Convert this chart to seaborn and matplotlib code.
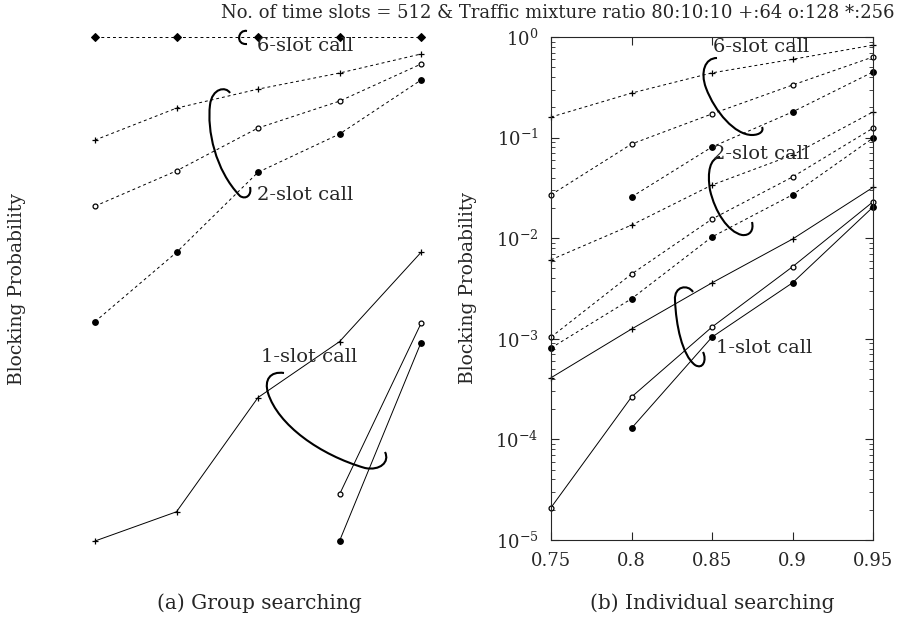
import matplotlib
matplotlib.use("Agg")
import matplotlib.pyplot as plt
import seaborn as sns
from matplotlib.path import Path
from matplotlib.patches import PathPatch
from matplotlib.ticker import LogLocator, LogFormatterMathtext, FixedLocator

sns.set_style("ticks")
plt.rcParams["font.family"] = ["DejaVu Serif"]
plt.rcParams["mathtext.fontset"] = "dejavuserif"

# offered load (x) values
load = [0.75, 0.8, 0.85, 0.9, 0.95]
load_last2 = [0.9, 0.95]
load_from08 = [0.8, 0.85, 0.9, 0.95]
load_ticks = ["0.75", "0.8", "0.85", "0.9", "0.95"]

# (a) group searching
grp_6slot = [1.0, 1.0, 1.0, 1.0, 1.0]
grp_2slot_64 = [0.095, 0.197, 0.304, 0.439, 0.678]
grp_2slot_128 = [0.021, 0.047, 0.125, 0.231, 0.539]
grp_2slot_256 = [0.0015, 0.0073, 0.0455, 0.109, 0.374]
grp_1slot_64 = [1.0e-5, 1.95e-5, 2.65e-4, 9.5e-4, 7.3e-3]
grp_1slot_128 = [2.9e-5, 1.44e-3]
grp_1slot_256 = [1.0e-5, 9.3e-4]

# (b) individual searching
ind_6slot_64 = [0.16, 0.277, 0.44, 0.60, 0.83]
ind_6slot_128 = [0.027, 0.0863, 0.172, 0.333, 0.633]
ind_6slot_256 = [0.0257, 0.0807, 0.18, 0.449]
ind_2slot_64 = [0.0061, 0.0135, 0.0338, 0.0671, 0.18]
ind_2slot_128 = [1.04e-3, 0.0044, 0.0155, 0.0406, 0.124]
ind_2slot_256 = [8.1e-4, 0.0025, 0.0103, 0.027, 0.099]
ind_1slot_64 = [4.1e-4, 1.25e-3, 3.6e-3, 9.8e-3, 0.032]
ind_1slot_128 = [2.1e-5, 2.64e-4, 1.31e-3, 5.2e-3, 0.023]
ind_1slot_256 = [1.29e-4, 1.04e-3, 3.6e-3, 0.0204]

W, H = 898, 624
fig = plt.figure(figsize=(W / 100, H / 100), dpi=100)
ax_a = fig.add_axes([95 / W, 1 - 541 / H, 326 / W, 504 / H])
ax_b = fig.add_axes([551 / W, 1 - 540 / H, 322 / W, 503 / H])

dash = (0, (3, 3))
mk = {
    "+": dict(marker="+", ms=5, mec="k", mew=0.9),
    "o": dict(marker="o", ms=3.5, mfc="white", mec="k", mew=0.9),
    "*": dict(marker="o", ms=4, mfc="k", mec="k", mew=0.9),
}


def draw(ax, x, y, m, ls):
    sns.lineplot(x=x, y=y, ax=ax, color="k", lw=0.7, linestyle=ls,
                 clip_on=False, **mk[m])


# panel (a)
sns.lineplot(x=load, y=grp_6slot, ax=ax_a, color="k", lw=0.7, linestyle=dash,
             marker="D", ms=4, mfc="k", mec="k", clip_on=False)
draw(ax_a, load, grp_2slot_64, "+", dash)
draw(ax_a, load, grp_2slot_128, "o", dash)
draw(ax_a, load, grp_2slot_256, "*", dash)
draw(ax_a, load, grp_1slot_64, "+", "-")
draw(ax_a, load_last2, grp_1slot_128, "o", "-")
draw(ax_a, load_last2, grp_1slot_256, "*", "-")

# panel (b)
draw(ax_b, load, ind_6slot_64, "+", dash)
draw(ax_b, load, ind_6slot_128, "o", dash)
draw(ax_b, load_from08, ind_6slot_256, "*", dash)
draw(ax_b, load, ind_2slot_64, "+", dash)
draw(ax_b, load, ind_2slot_128, "o", dash)
draw(ax_b, load, ind_2slot_256, "*", dash)
draw(ax_b, load, ind_1slot_64, "+", "-")
draw(ax_b, load, ind_1slot_128, "o", "-")
draw(ax_b, load_from08, ind_1slot_256, "*", "-")

for ax in (ax_a, ax_b):
    ax.set_yscale("log")
    ax.set_ylim(1e-5, 1)
    ax.set_xlim(0.75, 0.95)
    ax.set_xlabel("")
    ax.set_ylabel("Blocking Probability", fontsize=13.5)

# panel (a): axes frame lost in the scan
for s in ax_a.spines.values():
    s.set_visible(False)
ax_a.tick_params(which="both", left=False, bottom=False, labelleft=False, labelbottom=False)
ax_a.yaxis.set_label_coords((26 - 95) / 326, 0.5)

# panel (b)
for s in ax_b.spines.values():
    s.set_linewidth(0.8)
ax_b.xaxis.set_major_locator(FixedLocator(load))
ax_b.set_xticklabels(load_ticks, fontsize=13)
ax_b.yaxis.set_major_locator(LogLocator(base=10, numticks=10))
ax_b.yaxis.set_minor_locator(LogLocator(base=10, subs=range(2, 10), numticks=10))
ax_b.yaxis.set_major_formatter(LogFormatterMathtext())
ax_b.tick_params(which="both", direction="in", top=True, right=True, labelsize=13)
ax_b.tick_params(which="major", length=6, width=0.8)
ax_b.tick_params(which="minor", length=3, width=0.6)
ax_b.tick_params(axis="x", pad=9)
ax_b.tick_params(axis="y", pad=9)
ax_b.yaxis.set_label_coords((477 - 551) / 322, 0.5)

# labels
lab = dict(fontsize=14, va="center", ha="left")
fig.text(257 / W, 1 - 46 / H, "6-slot call", **lab)
fig.text(257 / W, 1 - 195 / H, "2-slot call", **lab)
fig.text(261 / W, 1 - 357 / H, "1-slot call", **lab)
fig.text(713 / W, 1 - 47 / H, "6-slot call", **lab)
fig.text(713 / W, 1 - 154 / H, "2-slot call", **lab)
fig.text(716 / W, 1 - 348 / H, "1-slot call", **lab)

# hand drawn brackets (pixel coordinates of the figure)
brackets = [
    [(247, 31), (238, 29), (235, 45), (247, 44)],
    [(230, 93), (226, 86), (212, 88), (210, 105), (207, 130), (215, 170), (240, 196),
     (246, 200), (252, 195), (250, 187)],
    [(284, 373), (270, 371), (264, 380), (268, 393), (278, 425), (320, 455), (365, 468),
     (380, 471), (390, 462), (385, 452)],
    [(717, 58), (705, 58), (700, 72), (706, 88), (715, 112), (735, 135), (752, 135),
     (760, 135), (764, 131), (762, 127)],
    [(720, 157), (710, 158), (707, 172), (710, 190), (715, 212), (728, 232), (742, 235),
     (750, 236), (754, 230), (752, 222)],
    [(693, 292), (688, 284), (674, 286), (675, 300), (676, 325), (682, 355), (695, 365),
     (703, 370), (707, 360), (703, 352)],
]
for pts in brackets:
    verts = [(x / W, 1 - y / H) for x, y in pts]
    codes = [Path.MOVETO] + [Path.CURVE4] * (len(verts) - 1)
    fig.add_artist(PathPatch(Path(verts, codes), fill=False, lw=1.5, ec="k",
                             transform=fig.transFigure))

fig.text(558 / W, 1 - 13 / H,
         "No. of time slots = 512 & Traffic mixture ratio 80:10:10 +:64 o:128 *:256",
         ha="center", va="center", fontsize=13)
fig.text(259 / W, 1 - 603 / H, "(a) Group searching", ha="center", va="center", fontsize=14.5)
fig.text(712 / W, 1 - 603 / H, "(b) Individual searching", ha="center", va="center", fontsize=14.5)

fig.savefig("out.png", dpi=100)
